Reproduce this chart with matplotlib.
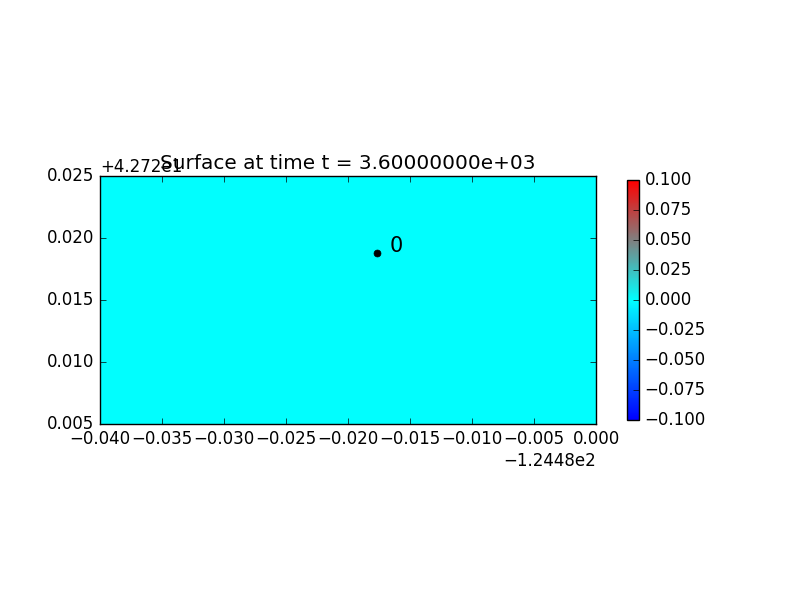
import numpy as np
import matplotlib
matplotlib.use("Agg")
import matplotlib.pyplot as plt
from matplotlib.colors import LinearSegmentedColormap

plt.style.use('classic')
plt.rcParams['figure.facecolor'] = 'white'
plt.rcParams['savefig.facecolor'] = 'white'

# domain (lon/lat) and surface field at t = 3600 s
x_edges = [-124.52, -124.51, -124.50, -124.49, -124.48]
y_edges = [42.725, 42.730, 42.735, 42.740, 42.745]
surface = [[0.0, 0.0, 0.0, 0.0],
           [0.0, 0.0, 0.0, 0.0],
           [0.0, 0.0, 0.0, 0.0],
           [0.0, 0.0, 0.0, 0.0]]
gauge_ids = ['0']
gauge_x = [-124.49766]
gauge_y = [42.73879]
t = 3600.0
cb_ticks = [-0.1, -0.075, -0.05, -0.025, 0.0, 0.025, 0.05, 0.075, 0.1]

tsunami_cmap = LinearSegmentedColormap.from_list(
    'tsunami', [(0.0, (0, 0, 1)), (0.5, (0, 1, 1)), (1.0, (1, 0, 0))])

fig = plt.figure(figsize=(8, 6), dpi=100)
ax = fig.add_axes([0.125, 0.2933, 0.62, 0.4133])
pc = ax.pcolormesh(x_edges, y_edges, np.array(surface), cmap=tsunami_cmap,
                   vmin=-0.1, vmax=0.1)
ax.set_xlim(-124.52, -124.48)
ax.set_ylim(42.725, 42.745)
ax.xaxis.get_major_formatter().set_useOffset(-124.48)
ax.yaxis.get_major_formatter().set_useOffset(42.72)
ax.set_title('Surface at time t = %14.8e' % t)

for gid, gx, gy in zip(gauge_ids, gauge_x, gauge_y):
    ax.plot(gx, gy, 'k.', markersize=10)
    ax.annotate(gid, (gx, gy), xytext=(9, 1), textcoords='offset points',
                fontsize=15)

cax = fig.add_axes([0.78375, 0.3, 0.015, 0.4])
cb = fig.colorbar(pc, cax=cax)
cb.set_ticks(cb_ticks)
cb.set_ticklabels([('%.3f' % v).replace('-', '\u2212') for v in cb_ticks])

fig.savefig('out.png', dpi=100)
